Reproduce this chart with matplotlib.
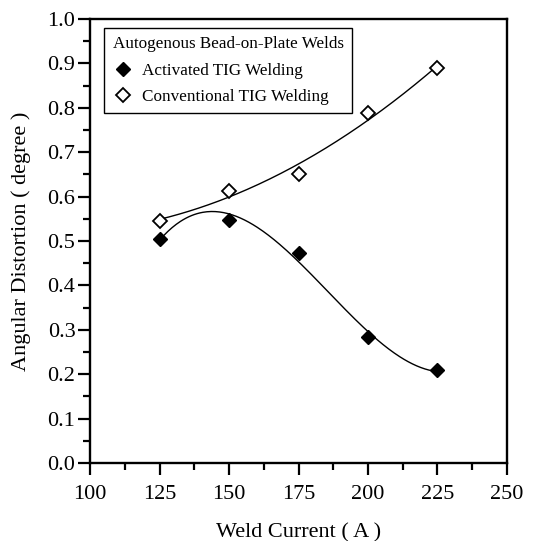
import numpy as np
import matplotlib.pyplot as plt
from matplotlib.ticker import MultipleLocator

plt.rcParams['font.family'] = ['Liberation Serif', 'DejaVu Serif']

# --- data ---
current = [125, 150, 175, 200, 225]
activated = [0.505, 0.548, 0.473, 0.283, 0.209]
conventional = [0.546, 0.612, 0.651, 0.789, 0.890]

fig = plt.figure(figsize=(5.56, 5.41), dpi=100)
ax = fig.add_axes([90 / 556, 78 / 541, 417 / 556, 444 / 541])

# smooth fitted curves (cubic for activated, quadratic for conventional)
xs = np.linspace(current[0], current[-1], 200)
ax.plot(xs, np.polyval(np.polyfit(current, activated, 3), xs), color='black', lw=1.0)
ax.plot(xs, np.polyval(np.polyfit(current, conventional, 2), xs), color='black', lw=1.0)

ax.plot(current, activated, linestyle='none', marker='D', ms=7, mfc='black',
        mec='black', label='Activated TIG Welding')
ax.plot(current, conventional, linestyle='none', marker='D', ms=7, mfc='white',
        mec='black', mew=1.3, label='Conventional TIG Welding')

ax.set_xlim(100, 250)
ax.set_ylim(0, 1.0)
ax.xaxis.set_major_locator(MultipleLocator(25))
ax.xaxis.set_minor_locator(MultipleLocator(12.5))
ax.yaxis.set_major_locator(MultipleLocator(0.1))
ax.yaxis.set_minor_locator(MultipleLocator(0.05))
ax.yaxis.set_major_formatter(plt.FormatStrFormatter('%.1f'))

ax.tick_params(which='major', direction='out', length=8.5, width=1.6, labelsize=16,
               top=False, right=False)
ax.tick_params(which='minor', direction='out', length=5, width=1.6,
               top=False, right=False)
ax.tick_params(axis='x', which='major', pad=7)
ax.tick_params(axis='y', which='major', pad=2)
for sp in ax.spines.values():
    sp.set_linewidth(1.7)

ax.set_xlabel('Weld Current ( A )', fontsize=16, labelpad=14)
ax.set_ylabel('Angular Distortion ( degree )', fontsize=16, labelpad=12)

leg = ax.legend(title='Autogenous Bead-on-Plate Welds', loc='upper left',
                bbox_to_anchor=(0.034, 0.98), borderaxespad=0,
                fontsize=12.3, title_fontsize=12.3,
                fancybox=False, edgecolor='black', framealpha=1,
                handletextpad=0.5, handlelength=1.2, borderpad=0.5,
                labelspacing=0.6)
leg._legend_box.align = 'left'
leg.get_frame().set_linewidth(1.0)

fig.savefig('out.png', dpi=100)
